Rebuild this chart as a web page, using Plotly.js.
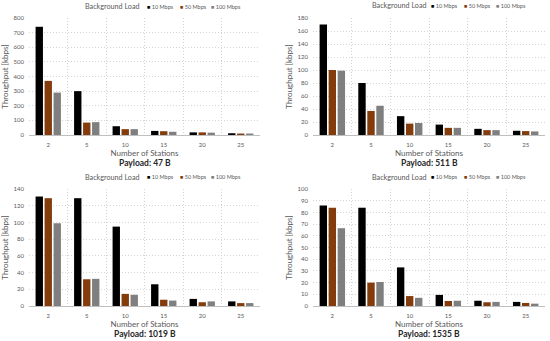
<!DOCTYPE html>
<html>
<head>
<meta charset="utf-8">
<script src="https://cdn.plot.ly/plotly-3.0.1.min.js"></script>
<style>html,body{margin:0;padding:0;background:#fff;}#chart{width:550px;height:341px;}</style>
</head>
<body>
<div id="chart"></div>
<script>
// Categories
const stations = ['2', '5', '10', '15', '20', '25'];
const loadNames = ['10 Mbps', '50 Mbps', '100 Mbps'];
const payloadLabels = ['Payload: 47 B', 'Payload: 511 B', 'Payload: 1019 B', 'Payload: 1535 B'];

// Throughput [kbps], payload 47 B
const p47_10 = [740, 300, 60, 28, 18, 12];
const p47_50 = [370, 85, 40, 26, 18, 10];
const p47_100 = [290, 88, 40, 22, 16, 10];
// payload 511 B
const p511_10 = [170, 80, 29, 16, 9.5, 6.5];
const p511_50 = [100, 37, 17.5, 11, 7.5, 6];
const p511_100 = [99, 45, 18.5, 11, 7.5, 5.5];
// payload 1019 B
const p1019_10 = [131, 129, 95, 26, 8.5, 5.5];
const p1019_50 = [129, 32, 14.5, 7.5, 4.5, 3.5];
const p1019_100 = [99, 32.5, 13.5, 6.5, 5.5, 3.5];
// payload 1535 B
const p1535_10 = [86, 84, 33, 9.5, 4.5, 3.5];
const p1535_50 = [84, 20, 8.5, 4.3, 3.2, 2.6];
const p1535_100 = [66.5, 20.5, 7, 4.5, 3.5, 2];

// Axis ranges and tick steps
const yMax = [800, 180, 140, 100];
const yStep = [100, 20, 20, 10];

const panels = [
  [p47_10, p47_50, p47_100],
  [p511_10, p511_50, p511_100],
  [p1019_10, p1019_50, p1019_100],
  [p1535_10, p1535_50, p1535_100]
];

const colors = ['#000000', '#843C0C', '#7F7F7F'];
const W = 550, H = 341;
const px = x => x / W;
const py = y => 1 - y / H;

// panel geometry (pixels)
const geo = [
  {x0: 29, x1: 260, yTop: 18, yBot: 135, legY: 7, legX: [83, 147, 180, 211], payY: 163},
  {x0: 313, x1: 545, yTop: 18, yBot: 135, legY: 6, legX: [370, 431, 464, 496], payY: 163},
  {x0: 29, x1: 260, yTop: 189, yBot: 306, legY: 177, legX: [83, 147, 180, 211], payY: 334},
  {x0: 313, x1: 545, yTop: 189, yBot: 306, legY: 177, legX: [370, 431, 464, 496], payY: 334}
];

const textGray = '#595959';
const FONT = 'Lato, "Open Sans", sans-serif';

const data = [];
const layout = {
  width: W, height: H,
  margin: {l: 0, r: 0, t: 0, b: 0},
  paper_bgcolor: '#ffffff',
  plot_bgcolor: '#ffffff',
  barmode: 'group',
  bargap: 0.3,
  bargroupgap: 0.18,
  showlegend: false,
  font: {family: FONT, color: textGray, size: 6},
  annotations: []
};

panels.forEach((series, i) => {
  const xa = 'x' + (i ? i + 1 : '');
  const ya = 'y' + (i ? i + 1 : '');
  const xKey = 'xaxis' + (i ? i + 1 : '');
  const yKey = 'yaxis' + (i ? i + 1 : '');
  const g = geo[i];
  series.forEach((vals, k) => {
    data.push({
      type: 'bar', x: stations, y: vals, name: loadNames[k],
      xaxis: xa, yaxis: ya,
      marker: {color: colors[k], line: {width: 0}},
      hoverinfo: 'y'
    });
  });
  layout[xKey] = {
    domain: [px(g.x0), px(g.x1)],
    anchor: ya,
    type: 'category',
    tickson: 'boundaries',
    ticks: '',
    showgrid: true, gridcolor: '#d4d4d4', griddash: '1px,2px', gridwidth: 1,
    showline: true, linecolor: '#bfbfbf', linewidth: 1,
    ticklabelstandoff: 4,
    tickfont: {size: 6, color: textGray, family: FONT},
    title: {text: 'Number of Stations', font: {size: 8, color: textGray, family: FONT}, standoff: 3},
    automargin: false,
    fixedrange: true
  };
  layout[yKey] = {
    domain: [py(g.yBot), py(g.yTop)],
    anchor: xa,
    range: [0, yMax[i]],
    dtick: yStep[i],
    tick0: 0,
    ticks: '',
    showgrid: true, gridcolor: '#d4d4d4', griddash: '1px,2px', gridwidth: 1,
    zeroline: false,
    showline: false,
    ticklabelstandoff: 4,
    tickfont: {size: 6, color: textGray, family: FONT},
    title: {text: 'Throughput [kbps]', font: {size: 8, color: textGray, family: FONT}, standoff: 3},
    automargin: false,
    fixedrange: true
  };
  // legend row as text
  layout.annotations.push({
    xref: 'paper', yref: 'paper', x: px(g.legX[0]), y: py(g.legY),
    xanchor: 'left', yanchor: 'middle', showarrow: false,
    text: 'Background Load', font: {size: 7.2, color: textGray, family: FONT}
  });
  loadNames.forEach((nm, k) => {
    layout.annotations.push({
      xref: 'paper', yref: 'paper', x: px(g.legX[k + 1] - 2), y: py(g.legY),
      xanchor: 'left', yanchor: 'middle', showarrow: false,
      text: '<span style="color:' + colors[k] + '">■</span> ' + nm,
      font: {size: 5.5, color: textGray, family: FONT}
    });
  });
  layout.annotations.push({
    xref: 'paper', yref: 'paper', x: px((g.x0 + g.x1) / 2), y: py(g.payY),
    xanchor: 'center', yanchor: 'middle', showarrow: false,
    text: '<b>' + payloadLabels[i] + '</b>', font: {size: 8.5, color: '#262626', family: FONT}
  });
});

Plotly.newPlot('chart', data, layout, {staticPlot: true, displayModeBar: false});
</script>
</body>
</html>
